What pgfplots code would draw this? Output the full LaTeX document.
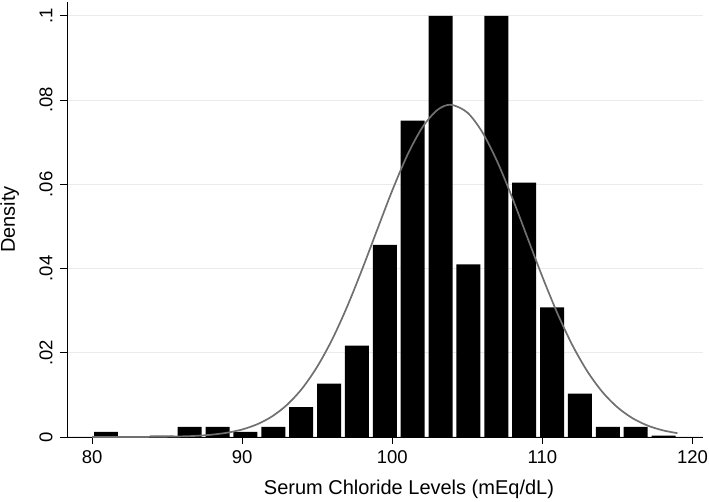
\documentclass[border=0pt]{standalone}
\usepackage{fontspec}
\setmainfont{Liberation Sans}
\usepackage{pgfplots}
\pgfplotsset{compat=1.18}
\definecolor{gridgray}{RGB}{234,234,234}
\definecolor{curvegray}{RGB}{112,112,112}

\begin{document}
\begin{tikzpicture}
\path[use as bounding box] (-67pt,-65pt) rectangle (642pt,437pt);
\begin{axis}[
  at={(0,0)}, anchor=south west,
  scale only axis, width=636pt, height=435pt,
  xmin=78.33, xmax=120.7, ymin=0, ymax=0.1033,
  axis x line*=bottom, axis y line*=left,
  axis line style={-, black, line width=0.9pt},
  tick align=outside, major tick length=7pt,
  tick style={black, line width=0.9pt},
  xtick={80,90,100,110,120},
  ytick={0,0.02,0.04,0.06,0.08,0.1},
  yticklabels={0,.02,.04,.06,.08,.1},
  /pgf/number format/assume math mode=true,
  ticklabel style={font=\fontsize{18.5}{20}\selectfont},
  yticklabel style={rotate=90, anchor=south},
  xticklabel shift=3pt, yticklabel shift=4pt,
  ymajorgrids, grid style={gridgray, line width=1.2pt},
  xlabel={Serum Chloride Levels (mEq/dL)},
  ylabel={Density},
  label style={font=\fontsize{20}{22}\selectfont},
  xlabel style={at={(axis description cs:0.5377,0)}, anchor=base, yshift=-58pt},
  ylabel style={at={(axis description cs:0,0.5)}, anchor=base, rotate=0, yshift=52pt},
  clip=false,
]
\addplot[ybar interval, fill=black, draw=none,
  /pgf/bar interval width=0.86]
  coordinates {
  (80.000,0.0012) (81.857,0) (83.714,0.0003) (85.571,0.0024)
  (87.429,0.0024) (89.286,0.0012) (91.143,0.0024) (93.000,0.0071)
  (94.857,0.0127) (96.714,0.0217) (98.571,0.0456) (100.429,0.0751)
  (102.286,0.1000) (104.143,0.0410) (106.000,0.1000) (107.857,0.0604)
  (109.714,0.0308) (111.571,0.0103) (113.429,0.0024) (115.286,0.0024)
  (117.143,0.0003) (119.000,0)
  };
\addplot[curvegray, line width=1.7pt, smooth, no marks] coordinates {
  (80,0.0000) (82,0.0000) (84,0.00003) (86,0.00015) (87,0.00029)
  (88,0.00056) (89,0.00102) (90,0.00179) (91,0.00302) (92,0.00491)
  (93,0.00768) (94,0.01154) (95,0.01670) (96,0.02320) (97,0.03102)
  (98,0.03988) (99,0.04927) (100,0.05855) (101,0.06691) (102,0.07351)
  (103,0.07765) (103.9,0.0789) (105,0.07705) (106,0.07237) (107,0.06535)
  (108,0.05675) (109,0.04738) (110,0.03804) (111,0.02937) (112,0.02179)
  (113,0.01556) (114,0.01068) (115,0.00705) (116,0.00447) (117,0.00273)
  (118,0.00160) (119,0.00090)
  };
\end{axis}
\end{tikzpicture}
\end{document}
